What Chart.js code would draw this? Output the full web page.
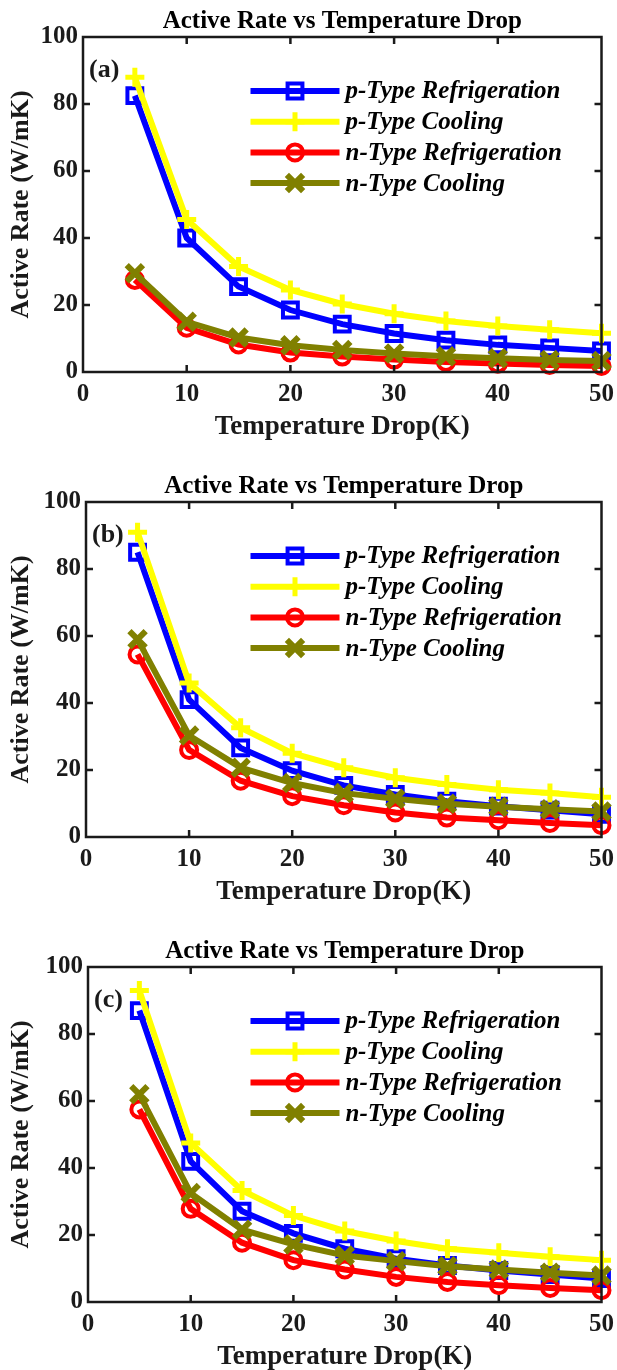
<!DOCTYPE html>
<html>
<head>
<meta charset="utf-8">
<script src="https://cdn.jsdelivr.net/npm/chart.js@4/dist/chart.umd.min.js"></script>
<style>
  html, body { margin: 0; padding: 0; background: #fff; width: 617px; height: 1370px; overflow: hidden; }
  .panel { position: absolute; left: 0; width: 619px; height: 465px; }
</style>
</head>
<body>
<div class="panel" style="top:0px"><canvas id="chartA" width="619" height="465"></canvas></div>
<div class="panel" style="top:465px"><canvas id="chartB" width="619" height="465"></canvas></div>
<div class="panel" style="top:930px"><canvas id="chartC" width="619" height="465"></canvas></div>
<script>
const tempDrop = [5, 10, 15, 20, 25, 30, 35, 40, 45, 50];
const seriesNames = ["p-Type Refrigeration", "p-Type Cooling", "n-Type Refrigeration", "n-Type Cooling"];
const xTicks = [0, 10, 20, 30, 40, 50];
const yTicks = [0, 20, 40, 60, 80, 100];

// panel (a)
const pRefA  = [82.5, 40, 25.5, 18.5, 14.3, 11.5, 9.5, 8.1, 7.2, 6.3];
const pCoolA = [88, 45.5, 31.5, 24.5, 20.3, 17.4, 15.2, 13.7, 12.6, 11.6];
const nRefA  = [27.5, 13.2, 8.2, 5.8, 4.6, 3.7, 3.0, 2.5, 2.1, 1.8];
const nCoolA = [29.5, 15, 10.3, 8.0, 6.6, 5.5, 4.7, 4.1, 3.6, 3.3];

// panel (b)
const pRefB  = [85, 41, 26.6, 19.8, 15.4, 12.7, 10.7, 9.2, 8.0, 6.8];
const pCoolB = [91, 46, 32.6, 25, 20.7, 17.7, 15.7, 14.1, 13.1, 11.9];
const nRefB  = [54.5, 26, 16.8, 12.2, 9.5, 7.3, 5.8, 5.0, 4.2, 3.5];
const nCoolB = [59, 30.3, 20.7, 16.1, 13.1, 11.4, 9.9, 9.0, 8.3, 7.6];

// panel (c)
const pRefC  = [87, 42, 27.1, 20.5, 15.9, 12.9, 10.9, 9.4, 8.2, 7.0];
const pCoolC = [93, 47.5, 33.3, 25.8, 21.2, 18.2, 15.9, 14.7, 13.5, 12.5];
const nRefC  = [57.5, 27.8, 17.7, 12.5, 9.7, 7.5, 6.0, 5.0, 4.2, 3.5];
const nCoolC = [62, 32.5, 21.6, 17.2, 13.9, 12.2, 10.7, 9.7, 8.7, 7.9];

const serif = "'Liberation Serif', 'Times New Roman', serif";
const ink = "#1a1a1a";

const styles = [
  { color: "#0000ff", pointStyle: "rect", radius: 10.5, pointBorder: 4, order: 4 },
  { color: "#ffff00", pointStyle: "cross", radius: 9.5, pointBorder: 5, order: 3 },
  { color: "#ff0000", pointStyle: "circle", radius: 8, pointBorder: 4, order: 2 },
  { color: "#808000", pointStyle: "crossRot", radius: 11.5, pointBorder: 6, order: 1 }
];

// axis box with inward ticks, legend and panel letter
const decorPlugin = {
  id: "decor",
  afterDraw(chart, args, opts) {
    const { ctx, chartArea: a, scales } = chart;
    ctx.save();
    ctx.strokeStyle = ink;
    ctx.lineWidth = 2.5;
    ctx.strokeRect(a.left, a.top, a.right - a.left, a.bottom - a.top);
    const tl = 7;
    ctx.beginPath();
    xTicks.slice(1, -1).forEach(v => {
      const px = scales.x.getPixelForValue(v);
      ctx.moveTo(px, a.bottom); ctx.lineTo(px, a.bottom - tl);
      ctx.moveTo(px, a.top); ctx.lineTo(px, a.top + tl);
    });
    yTicks.slice(1, -1).forEach(v => {
      const py = scales.y.getPixelForValue(v);
      ctx.moveTo(a.left, py); ctx.lineTo(a.left + tl, py);
      ctx.moveTo(a.right, py); ctx.lineTo(a.right - tl, py);
    });
    ctx.stroke();

    // panel letter
    ctx.fillStyle = ink;
    ctx.font = "bold 26px " + serif;
    ctx.textAlign = "left";
    ctx.textBaseline = "middle";
    ctx.fillText(opts.letter, a.left + 6, a.top + 33);

    // legend
    const lineX0 = a.right - 351, lineX1 = a.right - 262, textX = a.right - 256;
    chart.data.datasets.forEach((ds, i) => {
      const y = a.top + 54 + 30.7 * i;
      const st = styles[i];
      ctx.strokeStyle = ds.borderColor;
      ctx.lineWidth = ds.borderWidth;
      ctx.beginPath();
      ctx.moveTo(lineX0, y); ctx.lineTo(lineX1, y);
      ctx.stroke();
      ctx.fillStyle = "rgba(0,0,0,0)";
      ctx.lineWidth = st.pointBorder;
      Chart.helpers.drawPoint(ctx, { pointStyle: st.pointStyle, radius: st.radius, rotation: 0, borderWidth: st.pointBorder }, (lineX0 + lineX1) / 2, y);
      ctx.fillStyle = "#000";
      ctx.font = "italic bold 25px " + serif;
      ctx.textAlign = "left";
      ctx.textBaseline = "middle";
      ctx.fillText(ds.label, textX, y + 1);
    });
    ctx.restore();
  }
};

function makePanel(id, letter, left, values) {
  const datasets = values.map((vals, i) => ({
    label: seriesNames[i],
    data: vals,
    borderColor: styles[i].color,
    backgroundColor: styles[i].color,
    borderWidth: 6,
    pointStyle: styles[i].pointStyle,
    pointRadius: styles[i].radius,
    pointBorderWidth: styles[i].pointBorder,
    pointBorderColor: styles[i].color,
    pointBackgroundColor: "rgba(0,0,0,0)",
    tension: 0,
    clip: false,
    order: styles[i].order
  }));

  new Chart(document.getElementById(id), {
    type: "line",
    data: { labels: tempDrop, datasets },
    options: {
      responsive: false,
      animation: false,
      events: [],
      layout: { padding: { top: 0, right: 14.5, bottom: 0, left: 0 } },
      scales: {
        x: {
          type: "linear",
          min: 0, max: 50,
          afterBuildTicks: s => { s.ticks = xTicks.map(v => ({ value: v })); },
          afterFit: s => { s.height = 93; s.paddingLeft = 0; s.paddingRight = 0; },
          grid: { display: false, drawTicks: false },
          border: { display: false },
          ticks: { padding: 8, color: ink, font: { family: serif, size: 25, weight: "bold" }, maxRotation: 0 },
          title: { display: true, text: "Temperature Drop(K)", color: ink, padding: { top: 0, bottom: 22 }, font: { family: serif, size: 27, weight: "bold" } }
        },
        y: {
          min: 0, max: 100,
          afterBuildTicks: s => { s.ticks = yTicks.map(v => ({ value: v })); },
          afterFit: s => { s.width = left; s.paddingTop = 0; s.paddingBottom = 0; },
          grid: { display: false, drawTicks: false },
          border: { display: false },
          ticks: { padding: 5, color: ink, font: { family: serif, size: 25, weight: "bold" } },
          title: { display: true, text: "Active Rate (W/mK)", color: ink, padding: { top: 6, bottom: 0 }, font: { family: serif, size: 26, weight: "bold" } }
        }
      },
      plugins: {
        legend: { display: false },
        tooltip: { enabled: false },
        title: {
          display: true,
          fullSize: false,
          text: "Active Rate vs Temperature Drop",
          color: "#000",
          padding: { top: 7, bottom: 0 },
          font: { family: serif, size: 25, weight: "bold", lineHeight: 1.2 }
        },
        decor: { letter }
      }
    },
    plugins: [decorPlugin]
  });
}

makePanel("chartA", "(a)", 83, [pRefA, pCoolA, nRefA, nCoolA]);
makePanel("chartB", "(b)", 86, [pRefB, pCoolB, nRefB, nCoolB]);
makePanel("chartC", "(c)", 88, [pRefC, pCoolC, nRefC, nCoolC]);
</script>
</body>
</html>
